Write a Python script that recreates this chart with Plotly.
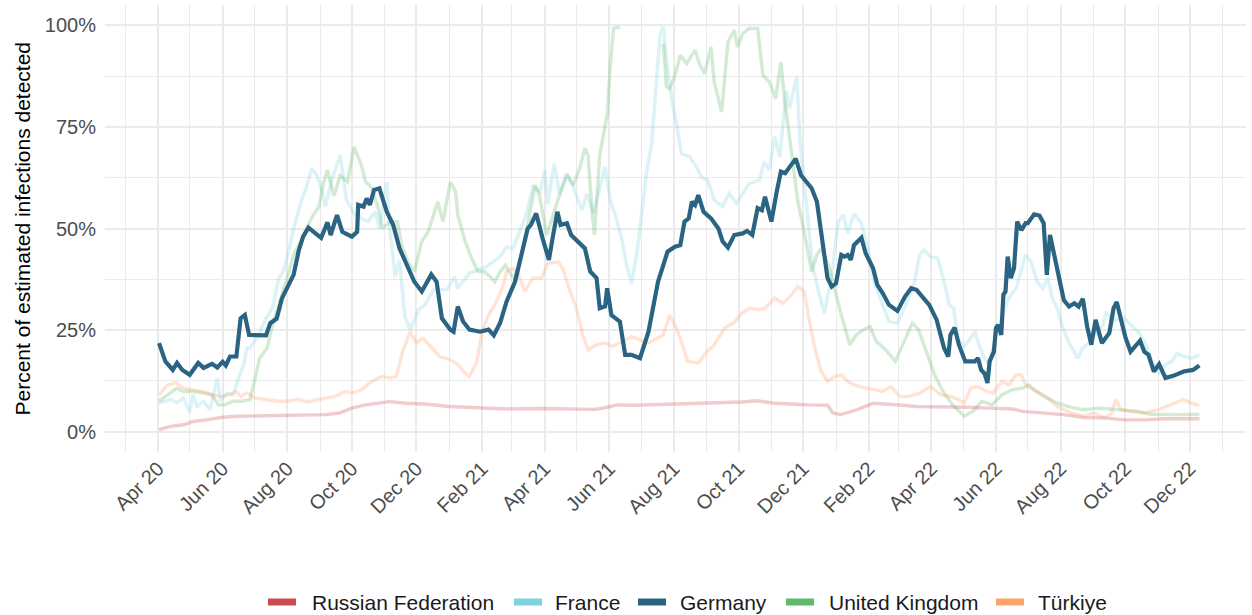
import plotly.graph_objects as go

# ---------------- data (percent of estimated infections detected) ----------------
COUNTRIES = ["Russian Federation", "France", "Germany", "United Kingdom", "Türkiye"]
COLORS = ["#CC4B53", "#7FD3DF", "#2A6482", "#63B96A", "#FFA26B"]

GER_DATES = [
    "2020-04-02", "2020-04-08", "2020-04-15", "2020-04-19", "2020-04-24", "2020-05-01", "2020-05-09",
    "2020-05-14", "2020-05-22", "2020-05-27", "2020-06-01", "2020-06-04", "2020-06-08", "2020-06-14",
    "2020-06-18", "2020-06-22", "2020-06-26", "2020-07-04", "2020-07-12", "2020-07-16", "2020-07-22",
    "2020-07-27", "2020-08-02", "2020-08-07", "2020-08-12", "2020-08-16", "2020-08-21", "2020-08-27",
    "2020-09-02", "2020-09-08", "2020-09-11", "2020-09-17", "2020-09-22", "2020-10-01", "2020-10-06",
    "2020-10-07", "2020-10-12", "2020-10-15", "2020-10-18", "2020-10-22", "2020-10-27", "2020-11-03",
    "2020-11-09", "2020-11-15", "2020-11-23", "2020-11-29", "2020-12-06", "2020-12-15", "2020-12-20",
    "2020-12-25", "2021-01-02", "2021-01-05", "2021-01-09", "2021-01-14", "2021-01-20", "2021-01-30",
    "2021-02-07", "2021-02-12", "2021-02-18", "2021-02-24", "2021-03-04", "2021-03-10", "2021-03-16",
    "2021-03-19", "2021-03-24", "2021-03-30", "2021-04-05", "2021-04-09", "2021-04-13", "2021-04-16",
    "2021-04-22", "2021-04-26", "2021-05-03", "2021-05-09", "2021-05-14", "2021-05-20", "2021-05-23",
    "2021-05-28", "2021-05-30", "2021-06-03", "2021-06-11", "2021-06-16", "2021-06-22", "2021-06-30",
    "2021-07-08", "2021-07-12", "2021-07-17", "2021-07-22", "2021-07-26", "2021-08-02", "2021-08-07",
    "2021-08-11", "2021-08-15", "2021-08-18", "2021-08-21", "2021-08-24", "2021-08-29", "2021-09-05",
    "2021-09-12", "2021-09-16", "2021-09-21", "2021-09-27", "2021-10-05", "2021-10-09", "2021-10-14",
    "2021-10-19", "2021-10-23", "2021-10-26", "2021-11-01", "2021-11-06", "2021-11-10", "2021-11-14",
    "2021-11-18", "2021-11-24", "2021-11-29", "2021-12-04", "2021-12-09", "2021-12-14", "2021-12-18",
    "2021-12-21", "2021-12-24", "2021-12-28", "2022-01-01", "2022-01-06", "2022-01-09", "2022-01-12",
    "2022-01-15", "2022-01-18", "2022-01-25", "2022-01-29", "2022-02-05", "2022-02-09", "2022-02-14",
    "2022-02-20", "2022-02-28", "2022-03-07", "2022-03-13", "2022-03-18", "2022-03-24", "2022-03-30",
    "2022-04-06", "2022-04-10", "2022-04-13", "2022-04-17", "2022-04-19", "2022-04-23", "2022-04-27",
    "2022-05-03", "2022-05-12", "2022-05-15", "2022-05-18", "2022-05-21", "2022-05-24", "2022-05-26",
    "2022-05-30", "2022-06-01", "2022-06-03", "2022-06-06", "2022-06-08", "2022-06-10", "2022-06-12",
    "2022-06-15", "2022-06-18", "2022-06-21", "2022-06-25", "2022-06-29", "2022-07-01", "2022-07-07",
    "2022-07-12", "2022-07-16", "2022-07-19", "2022-07-22", "2022-07-28", "2022-08-01", "2022-08-04",
    "2022-08-09", "2022-08-14", "2022-08-18", "2022-08-22", "2022-08-26", "2022-08-30", "2022-09-03",
    "2022-09-09", "2022-09-16", "2022-09-20", "2022-09-23", "2022-09-28", "2022-10-01", "2022-10-06",
    "2022-10-11", "2022-10-15", "2022-10-19", "2022-10-23", "2022-10-28", "2022-11-02", "2022-11-08",
    "2022-11-16", "2022-11-25", "2022-12-04", "2022-12-10",
]
GER_VALUES = [
    21.8, 17.3, 15.2, 16.9, 15.2, 14.0, 16.9,
    15.7, 16.7, 15.8, 17.2, 16.3, 18.5, 18.5,
    27.9, 28.7, 23.8, 23.8, 23.7, 26.7, 27.8,
    32.8, 35.7, 38.6, 44.7, 48.0, 50.2, 48.8,
    47.7, 51.5, 48.4, 53.3, 49.2, 48.0, 49.2,
    55.8, 55.4, 57.4, 55.8, 59.5, 59.9, 54.1,
    50.9, 45.1, 40.6, 36.9, 34.5, 38.7, 36.9,
    27.9, 25.1, 24.6, 30.8, 27.1, 25.1, 24.6,
    25.1, 23.7, 26.8, 32.0, 36.9, 43.5, 50.0,
    50.9, 53.7, 47.6, 42.3, 48.4, 54.1, 50.9,
    51.3, 48.4, 46.8, 45.1, 39.4, 37.8, 30.4,
    30.8, 35.3, 28.7, 27.1, 18.9, 18.9, 18.1,
    24.6, 30.4, 36.9, 41.0, 44.3, 45.5, 45.9,
    51.7, 52.5, 56.6, 55.8, 58.2, 54.1, 52.5,
    50.0, 46.8, 45.3, 48.4, 48.8, 49.4, 48.4,
    55.0, 54.5, 57.8, 51.7, 59.0, 64.0, 63.6,
    65.2, 67.2, 63.1, 61.5, 59.9, 56.6, 49.2,
    43.5, 37.8, 35.7, 36.5, 43.5, 43.1, 43.5,
    42.3, 45.9, 47.7, 43.9, 40.2, 36.1, 34.1,
    31.2, 29.7, 33.2, 35.3, 34.9, 33.0, 31.2,
    27.5, 23.8, 20.6, 18.5, 23.8, 25.6, 21.4,
    17.3, 17.3, 18.1, 15.2, 14.4, 12.0, 17.3,
    19.7, 25.5, 26.3, 23.8, 33.7, 34.5, 43.1,
    37.8, 40.2, 51.7, 49.6, 51.3, 51.3, 53.5,
    53.2, 51.3, 38.6, 48.4, 41.0, 36.1, 32.4,
    30.8, 31.6, 30.8, 32.7, 25.9, 21.4, 27.5,
    21.8, 24.3, 30.4, 31.9, 26.3, 23.4, 19.7,
    21.0, 22.4, 19.7, 18.9, 14.8, 16.6, 13.2,
    13.8, 14.8, 15.2, 16.3,
]

FRA_DATES = [
    "2020-04-02", "2020-04-13", "2020-04-19", "2020-04-25", "2020-05-01", "2020-05-04", "2020-05-08",
    "2020-05-14", "2020-05-20", "2020-05-27", "2020-05-30", "2020-06-05", "2020-06-11", "2020-06-16",
    "2020-06-21", "2020-06-24", "2020-06-27", "2020-07-05", "2020-07-12", "2020-07-18", "2020-07-24",
    "2020-07-29", "2020-08-02", "2020-08-08", "2020-08-15", "2020-08-19", "2020-08-24", "2020-08-29",
    "2020-09-03", "2020-09-06", "2020-09-12", "2020-09-20", "2020-09-26", "2020-10-03", "2020-10-10",
    "2020-10-16", "2020-10-23", "2020-10-27", "2020-11-03", "2020-11-06", "2020-11-11", "2020-11-15",
    "2020-11-20", "2020-11-25", "2020-12-03", "2020-12-09", "2020-12-17", "2020-12-30", "2021-01-06",
    "2021-01-09", "2021-01-20", "2021-02-05", "2021-02-18", "2021-02-24", "2021-03-02", "2021-03-15",
    "2021-03-21", "2021-03-28", "2021-04-01", "2021-04-04", "2021-04-10", "2021-04-15", "2021-04-22",
    "2021-04-28", "2021-05-06", "2021-05-11", "2021-05-17", "2021-05-23", "2021-05-28", "2021-06-02",
    "2021-06-08", "2021-06-13", "2021-06-17", "2021-06-22", "2021-06-27", "2021-07-01", "2021-07-06",
    "2021-07-11", "2021-07-15", "2021-07-19", "2021-07-22", "2021-07-25", "2021-07-30", "2021-08-04",
    "2021-08-08", "2021-08-16", "2021-08-22", "2021-08-27", "2021-09-02", "2021-09-08", "2021-09-16",
    "2021-09-22", "2021-09-29", "2021-10-05", "2021-10-11", "2021-10-21", "2021-10-25", "2021-10-30",
    "2021-11-04", "2021-11-09", "2021-11-15", "2021-11-18", "2021-11-25", "2021-11-28", "2021-12-04",
    "2021-12-10", "2021-12-16", "2021-12-21", "2021-12-28", "2022-01-03", "2022-01-08", "2022-01-12",
    "2022-01-18", "2022-01-25", "2022-01-31", "2022-02-06", "2022-02-14", "2022-02-20", "2022-02-28",
    "2022-03-08", "2022-03-16", "2022-03-21", "2022-03-25", "2022-03-31", "2022-04-07", "2022-04-13",
    "2022-04-18", "2022-04-22", "2022-04-26", "2022-05-02", "2022-05-07", "2022-05-12", "2022-05-16",
    "2022-05-21", "2022-05-26", "2022-06-01", "2022-06-07", "2022-06-13", "2022-06-20", "2022-06-25",
    "2022-06-29", "2022-07-04", "2022-07-10", "2022-07-15", "2022-07-20", "2022-07-24", "2022-07-29",
    "2022-08-03", "2022-08-09", "2022-08-14", "2022-08-17", "2022-08-22", "2022-08-26", "2022-09-02",
    "2022-09-10", "2022-09-13", "2022-09-21", "2022-09-30", "2022-10-06", "2022-10-14", "2022-10-20",
    "2022-10-26", "2022-11-02", "2022-11-08", "2022-11-14", "2022-11-19", "2022-11-25", "2022-12-03",
    "2022-12-10",
]
FRA_VALUES = [
    7.0, 7.9, 7.1, 8.3, 4.7, 9.1, 6.2,
    7.5, 5.4, 13.2, 7.5, 9.5, 9.1, 13.2,
    16.5, 20.6, 20.6, 23.8, 27.9, 30.4, 37.8,
    39.8, 44.3, 50.9, 57.4, 59.9, 64.8, 63.1,
    59.0, 55.4, 61.9, 68.0, 57.0, 53.7, 52.5,
    51.7, 54.1, 50.0, 61.5, 49.2, 38.2, 42.3,
    28.3, 25.1, 30.0, 31.2, 34.9, 35.0, 38.2,
    35.3, 39.0, 40.6, 43.1, 45.5, 45.0, 53.7,
    60.3, 59.0, 64.4, 56.0, 66.0, 58.6, 63.6,
    60.3, 54.5, 58.6, 53.7, 60.3, 65.2, 57.0,
    52.1, 47.2, 41.4, 36.5, 43.9, 52.1, 63.6,
    70.9, 85.7, 98.0, 99.6, 91.4, 81.6, 75.0,
    68.5, 67.6, 65.2, 62.7, 61.9, 57.0, 55.4,
    58.6, 56.2, 58.6, 61.1, 61.9, 66.4, 64.4,
    72.6, 67.6, 84.0, 79.6, 87.3, 71.7, 55.4,
    40.6, 34.1, 29.2, 38.6, 51.7, 53.3, 48.8,
    53.7, 51.3, 45.1, 36.9, 31.2, 27.1, 26.7,
    31.2, 36.9, 43.5, 44.7, 43.1, 42.7, 36.9,
    31.2, 30.4, 23.0, 21.0, 22.6, 24.6, 21.4,
    18.1, 16.5, 23.8, 28.7, 32.9, 35.3, 40.2,
    43.5, 41.8, 36.9, 35.3, 37.8, 32.9, 30.4,
    25.5, 21.8, 19.7, 18.1, 20.6, 21.4, 23.8,
    26.3, 29.2, 27.5, 27.9, 26.3, 24.3, 21.8,
    17.3, 14.4, 16.5, 17.3, 19.3, 18.5, 18.1,
    18.9,
]

GBR_DATES = [
    "2020-04-02", "2020-04-10", "2020-04-19", "2020-04-25", "2020-05-04", "2020-05-14", "2020-05-22",
    "2020-05-28", "2020-06-03", "2020-06-11", "2020-06-19", "2020-06-27", "2020-07-02", "2020-07-06",
    "2020-07-13", "2020-07-19", "2020-07-25", "2020-08-01", "2020-08-07", "2020-08-14", "2020-08-20",
    "2020-08-26", "2020-08-31", "2020-09-04", "2020-09-08", "2020-09-14", "2020-09-20", "2020-09-27",
    "2020-10-03", "2020-10-10", "2020-10-14", "2020-10-19", "2020-10-25", "2020-10-30", "2020-11-06",
    "2020-11-13", "2020-11-17", "2020-11-23", "2020-11-29", "2020-12-06", "2020-12-12", "2020-12-17",
    "2020-12-21", "2020-12-26", "2021-01-02", "2021-01-07", "2021-01-09", "2021-01-16", "2021-01-22",
    "2021-01-28", "2021-02-03", "2021-02-10", "2021-02-13", "2021-02-18", "2021-02-23", "2021-03-02",
    "2021-03-07", "2021-03-13", "2021-03-19", "2021-03-23", "2021-03-27", "2021-04-03", "2021-04-09",
    "2021-04-15", "2021-04-22", "2021-04-28", "2021-05-04", "2021-05-09", "2021-05-12", "2021-05-15",
    "2021-05-18", "2021-05-20", "2021-05-23", "2021-05-27", "2021-05-30", "2021-06-02", "2021-06-05",
    "2021-06-11", "2021-06-15", "2021-07-22", "2021-07-25", "2021-07-28", "2021-08-02", "2021-08-07",
    "2021-08-13", "2021-08-21", "2021-08-25", "2021-08-30", "2021-09-05", "2021-09-08", "2021-09-15",
    "2021-09-21", "2021-09-27", "2021-09-30", "2021-10-05", "2021-10-11", "2021-10-19", "2021-10-24",
    "2021-10-30", "2021-11-05", "2021-11-10", "2021-11-13", "2021-11-18", "2021-11-26", "2021-12-02",
    "2021-12-09", "2021-12-14", "2021-12-18", "2021-12-25", "2021-12-31", "2022-01-06", "2022-01-14",
    "2022-01-20", "2022-01-27", "2022-02-02", "2022-02-08", "2022-02-17", "2022-02-26", "2022-03-05",
    "2022-03-14", "2022-03-20", "2022-03-28", "2022-04-04", "2022-04-12", "2022-04-21", "2022-05-02",
    "2022-05-10", "2022-05-19", "2022-05-28", "2022-06-07", "2022-06-16", "2022-06-26", "2022-07-02",
    "2022-07-07", "2022-07-16", "2022-07-29", "2022-08-11", "2022-08-23", "2022-09-05", "2022-09-17",
    "2022-09-30", "2022-10-12", "2022-10-25", "2022-11-07", "2022-11-23", "2022-12-10",
]
GBR_VALUES = [
    7.5, 9.1, 10.7, 9.9, 9.9, 9.5, 9.1,
    6.6, 6.6, 7.5, 7.5, 7.9, 14.0, 18.1,
    20.6, 27.1, 32.0, 37.8, 43.5, 46.8, 50.5,
    53.5, 55.4, 61.0, 64.4, 58.0, 63.0, 61.5,
    70.1, 65.6, 61.5, 60.3, 55.8, 50.0, 51.7,
    51.7, 45.9, 41.8, 39.4, 46.8, 49.2, 53.3,
    56.6, 51.7, 61.5, 59.0, 53.3, 46.8, 42.7,
    39.4, 39.4, 37.8, 36.9, 39.4, 41.0, 37.8,
    40.2, 46.8, 55.0, 60.7, 58.2, 48.4, 53.3,
    58.2, 63.1, 60.7, 64.8, 69.7, 68.1, 56.6,
    48.4, 56.6, 68.1, 73.8, 77.9, 90.2, 99.2,
    99.6, None, 95.5, 84.8, 84.4, 87.7, 92.6,
    90.6, 93.9, 90.6, 88.1, 94.7, 86.1, 78.7,
    95.9, 98.8, 94.7, 98.0, 99.2, 99.2, 87.7,
    86.1, 82.0, 91.0, 82.8, 73.0, 56.6, 49.2,
    39.4, 43.5, 45.1, 41.0, 34.5, 28.7, 21.4,
    23.8, 25.1, 25.9, 22.2, 20.1, 17.3, 21.4,
    26.7, 25.1, 18.9, 14.0, 9.9, 6.6, 3.8,
    5.0, 7.5, 6.6, 9.1, 10.3, 10.7, 11.5,
    10.3, 8.7, 7.0, 6.0, 5.4, 5.8, 5.6,
    5.2, 5.0, 4.3, 4.2, 4.2, 4.3,
]

TUR_DATES = [
    "2020-04-02", "2020-04-10", "2020-04-18", "2020-04-25", "2020-05-04", "2020-05-14", "2020-05-22",
    "2020-05-30", "2020-06-07", "2020-06-14", "2020-06-18", "2020-06-24", "2020-07-01", "2020-07-10",
    "2020-07-23", "2020-08-01", "2020-08-11", "2020-08-20", "2020-08-30", "2020-09-07", "2020-09-15",
    "2020-09-25", "2020-10-01", "2020-10-10", "2020-10-20", "2020-10-29", "2020-11-06", "2020-11-12",
    "2020-11-18", "2020-11-25", "2020-12-01", "2020-12-07", "2020-12-15", "2020-12-23", "2021-01-02",
    "2021-01-09", "2021-01-16", "2021-01-20", "2021-01-27", "2021-02-01", "2021-02-07", "2021-02-13",
    "2021-02-20", "2021-02-24", "2021-03-02", "2021-03-07", "2021-03-13", "2021-03-21", "2021-03-29",
    "2021-04-04", "2021-04-14", "2021-04-18", "2021-04-25", "2021-05-01", "2021-05-07", "2021-05-12",
    "2021-05-20", "2021-05-28", "2021-06-04", "2021-06-14", "2021-06-22", "2021-06-30", "2021-07-08",
    "2021-07-16", "2021-07-22", "2021-07-28", "2021-08-02", "2021-08-08", "2021-08-14", "2021-08-24",
    "2021-09-01", "2021-09-07", "2021-09-18", "2021-09-28", "2021-10-04", "2021-10-12", "2021-10-20",
    "2021-10-26", "2021-11-04", "2021-11-12", "2021-11-20", "2021-11-26", "2021-12-02", "2021-12-07",
    "2021-12-12", "2021-12-18", "2021-12-24", "2021-12-31", "2022-01-06", "2022-01-12", "2022-01-18",
    "2022-01-23", "2022-02-08", "2022-02-14", "2022-02-22", "2022-03-02", "2022-03-11", "2022-03-21",
    "2022-03-31", "2022-04-10", "2022-04-19", "2022-04-27", "2022-05-02", "2022-05-08", "2022-05-15",
    "2022-05-23", "2022-05-29", "2022-06-07", "2022-06-13", "2022-06-20", "2022-06-25", "2022-06-29",
    "2022-07-10", "2022-07-20", "2022-07-29", "2022-08-11", "2022-08-23", "2022-09-01", "2022-09-11",
    "2022-09-18", "2022-09-22", "2022-09-27", "2022-10-06", "2022-10-19", "2022-11-01", "2022-11-13",
    "2022-11-25", "2022-12-03", "2022-12-10",
]
TUR_VALUES = [
    9.1, 11.5, 12.0, 10.7, 10.3, 9.9, 9.1,
    8.7, 9.1, 9.9, 8.7, 9.5, 8.3, 7.9,
    7.5, 7.5, 7.9, 7.3, 7.9, 8.3, 8.7,
    9.9, 9.5, 10.3, 12.4, 13.6, 13.2, 13.6,
    19.7, 24.6, 21.8, 23.0, 20.6, 18.5, 17.7,
    16.5, 14.4, 13.6, 17.3, 24.6, 28.7, 31.2,
    35.3, 39.4, 40.2, 39.0, 34.5, 37.8, 37.8,
    41.4, 41.8, 40.2, 34.5, 30.4, 23.8, 20.1,
    21.4, 21.8, 21.0, 22.2, 23.4, 22.6, 21.8,
    23.0, 23.8, 28.7, 26.3, 22.2, 17.3, 16.9,
    19.7, 21.0, 25.5, 27.1, 29.2, 30.4, 30.0,
    30.4, 32.9, 31.6, 33.7, 35.7, 34.5, 27.1,
    20.6, 14.8, 12.4, 13.6, 14.0, 12.4, 11.5,
    11.1, 10.3, 9.9, 11.1, 8.7, 8.7, 9.5,
    11.1, 9.1, 8.7, 7.9, 7.0, 10.7, 11.1,
    9.9, 9.5, 12.4, 11.5, 14.0, 14.0, 11.5,
    9.9, 8.3, 6.2, 4.6, 3.8, 4.6, 3.4,
    4.5, 7.9, 5.4, 5.0, 4.6, 5.4, 6.6,
    7.9, 7.0, 6.5,
]

RUS_DATES = [
    "2020-04-02", "2020-04-13", "2020-04-25", "2020-05-04", "2020-05-17", "2020-05-30", "2020-06-15",
    "2020-07-07", "2020-07-29", "2020-08-20", "2020-09-06", "2020-09-19", "2020-10-01", "2020-10-14",
    "2020-10-27", "2020-11-05", "2020-11-21", "2020-12-09", "2021-01-01", "2021-01-16", "2021-02-04",
    "2021-02-23", "2021-03-28", "2021-05-05", "2021-05-19", "2021-05-28", "2021-06-08", "2021-06-24",
    "2021-08-07", "2021-09-02", "2021-10-04", "2021-10-18", "2021-11-04", "2021-12-06", "2021-12-24",
    "2021-12-29", "2022-01-05", "2022-01-16", "2022-01-23", "2022-02-05", "2022-02-20", "2022-03-05",
    "2022-03-18", "2022-04-12", "2022-05-04", "2022-05-26", "2022-06-17", "2022-06-26", "2022-07-16",
    "2022-08-04", "2022-08-23", "2022-09-11", "2022-09-30", "2022-10-19", "2022-11-07", "2022-11-25",
    "2022-12-10",
]
RUS_VALUES = [
    0.5, 1.3, 1.7, 2.5, 2.9, 3.5, 3.8,
    3.9, 3.9, 4.0, 4.2, 4.6, 5.8, 6.6,
    7.0, 7.4, 7.0, 6.8, 6.2, 6.0, 5.8,
    5.6, 5.7, 5.7, 5.5, 5.9, 6.6, 6.5,
    6.8, 7.0, 7.3, 7.6, 7.0, 6.6, 6.5,
    4.6, 4.2, 5.0, 5.6, 7.0, 6.8, 6.5,
    6.2, 6.2, 6.0, 5.8, 5.6, 5.0, 4.6,
    4.2, 3.5, 3.4, 2.9, 2.9, 3.2, 3.2,
    3.2,
]

Y_TICKS = [0, 25, 50, 75, 100]
Y_TICK_LABELS = ["0%", "25%", "50%", "75%", "100%"]
Y_TITLE = "Percent of estimated infections detected"

SERIES = {
    "Russian Federation": (RUS_DATES, RUS_VALUES),
    "France": (FRA_DATES, FRA_VALUES),
    "Germany": (GER_DATES, GER_VALUES),
    "United Kingdom": (GBR_DATES, GBR_VALUES),
    "Türkiye": (TUR_DATES, TUR_VALUES),
}
COLOR_OF = dict(zip(COUNTRIES, COLORS))

# ---------------- layout constants ----------------
W, H = 1252, 615
M_L, M_R, M_T, M_B = 105, 6, 5, 163
PLOT_W = W - M_L - M_R
PLOT_H = H - M_T - M_B
FONT = "Liberation Sans, Arial, Helvetica, sans-serif"

# manual legend (pixel positions of swatch left edges / text left edges)
LEGEND_Y_PX = 602
LEGEND_SWATCH_PX = [268, 514, 638, 786, 996]
LEGEND_TEXT_PX = [310, 553, 678, 827, 1036]
SWATCH_W, SWATCH_H = 28, 7
Y_TITLE_X_PX = 22


def px_to_paper_x(px):
    return (px - M_L) / PLOT_W


def px_to_paper_y(py):
    return (H - M_B - py) / PLOT_H


fig = go.Figure()

# faint background countries
for name in ["Russian Federation", "France", "United Kingdom", "Türkiye"]:
    d, v = SERIES[name]
    fig.add_trace(go.Scatter(
        x=d, y=v, mode="lines", name=name, showlegend=False, hoverinfo="skip",
        connectgaps=False, opacity=0.28,
        line=dict(color=COLOR_OF[name], width=3.4, shape="linear"),
    ))

# highlighted country
d, v = SERIES["Germany"]
fig.add_trace(go.Scatter(
    x=d, y=v, mode="lines", name="Germany", showlegend=False,
    line=dict(color=COLOR_OF["Germany"], width=4.2),
))

shapes = []
annotations = []
for name, sx, tx in zip(COUNTRIES, LEGEND_SWATCH_PX, LEGEND_TEXT_PX):
    shapes.append(dict(
        type="rect", xref="paper", yref="paper",
        x0=px_to_paper_x(sx), x1=px_to_paper_x(sx + SWATCH_W),
        y0=px_to_paper_y(LEGEND_Y_PX + SWATCH_H / 2), y1=px_to_paper_y(LEGEND_Y_PX - SWATCH_H / 2),
        fillcolor=COLOR_OF[name], line=dict(width=0), layer="above",
    ))
    annotations.append(dict(
        text=name, xref="paper", yref="paper",
        x=px_to_paper_x(tx), y=px_to_paper_y(LEGEND_Y_PX),
        xanchor="left", yanchor="middle", showarrow=False,
        font=dict(family=FONT, size=21, color="#1a1a1a"),
    ))

# y-axis title as rotated annotation
annotations.append(dict(
    text=Y_TITLE, xref="paper", yref="paper",
    x=px_to_paper_x(Y_TITLE_X_PX), y=0.5, textangle=-90,
    xanchor="center", yanchor="middle", showarrow=False,
    font=dict(family=FONT, size=21, color="#000000"),
))

fig.update_layout(
    width=W, height=H,
    margin=dict(l=M_L, r=M_R, t=M_T, b=M_B, autoexpand=False),
    paper_bgcolor="white", plot_bgcolor="white",
    font=dict(family=FONT, size=20, color="#1a1a1a"),
    showlegend=False,
    shapes=shapes,
    annotations=annotations,
    xaxis=dict(
        type="date", automargin=False,
        range=["2020-02-11", "2023-01-23"],
        tick0="2020-04-01", dtick="M2", tickformat="%b %y",
        tickangle=-45,
        tickfont=dict(size=20, color="#4D4D4D"),
        showgrid=True, gridcolor="#EBEBEB", gridwidth=1.6,
        minor=dict(dtick="M1", tick0="2020-04-01", showgrid=True, gridcolor="#EBEBEB", gridwidth=1.0),
        zeroline=False, showline=False, ticks="",
    ),
    yaxis=dict(
        range=[-5, 105], automargin=False,
        tickvals=Y_TICKS, ticktext=Y_TICK_LABELS,
        tickfont=dict(size=20, color="#4D4D4D"),
        ticklabelstandoff=8,
        showgrid=True, gridcolor="#EBEBEB", gridwidth=1.6,
        minor=dict(tickvals=[12.5, 37.5, 62.5, 87.5], showgrid=True, gridcolor="#EBEBEB", gridwidth=1.0),
        zeroline=False, showline=False, ticks="",
    ),
)

fig.write_html(
    "out.html",
    config={"displayModeBar": False},
    post_script="document.body.style.margin='0px';",
)
